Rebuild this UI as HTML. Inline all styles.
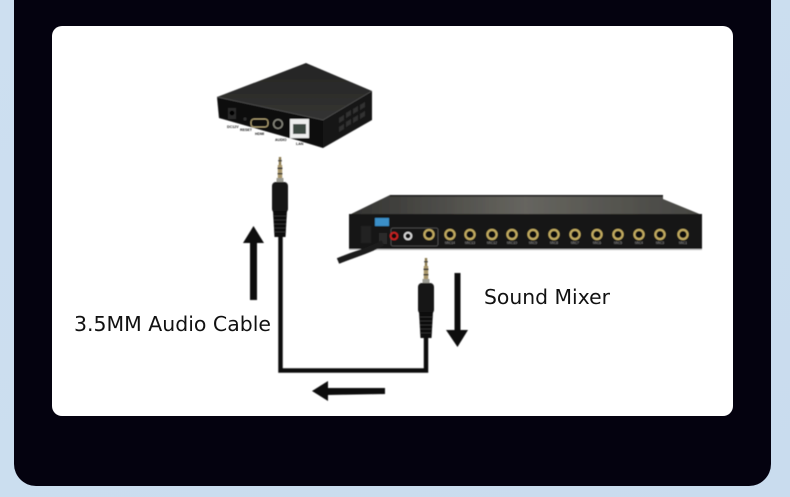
<!DOCTYPE html>
<html><head><meta charset="utf-8"><style>html,body{margin:0;padding:0;background:#cfe0f0}svg{display:block}</style></head><body>
<svg width="790" height="497" viewBox="0 0 790 497" xmlns="http://www.w3.org/2000/svg" font-family="'Liberation Sans',sans-serif">
<defs>
<linearGradient id="bg" x1="0" y1="0" x2="1" y2="1"><stop offset="0" stop-color="#cddff0"/><stop offset="1" stop-color="#c9dcee"/></linearGradient>
<linearGradient id="top" x1="0" y1="0" x2="0" y2="1"><stop offset="0" stop-color="#242424"/><stop offset="1" stop-color="#343432"/></linearGradient>
<linearGradient id="mtop" x1="0" y1="0" x2="1" y2="0"><stop offset="0" stop-color="#333331"/><stop offset=".5" stop-color="#66655f"/><stop offset="1" stop-color="#454541"/></linearGradient>
<filter id="b"><feGaussianBlur stdDeviation="0.4"/></filter>
<g id="jack"><circle r="4.6" fill="none" stroke="#c4ad62" stroke-width="2"/><circle r="2.6" fill="#111"/></g>
<g id="plug">
<rect x="-1.2" y="0" width="2.4" height="8" fill="#8a7a50"/><rect x="-1.8" y="3" width="3.6" height="1.4" fill="#444"/>
<rect x="-2.2" y="8" width="4.4" height="17" fill="#a8966a"/><rect x="-2.4" y="10.5" width="4.8" height="1.6" fill="#333"/><rect x="-2.4" y="16" width="4.8" height="1.4" fill="#333"/>
<rect x="-3.5" y="21" width="7" height="4" fill="#9b9b93"/>
<rect x="-8" y="25" width="16" height="31" rx="4" fill="#171717"/>
<path d="M-7 54H7L5.500 80H-5.500Z" fill="#111"/>
<g stroke="#333" stroke-width=".7"><path d="M-6 59H6M-6 63H6M-6 67H6M-6 71H6M-6 75H6"/></g>
</g>
</defs>
<rect width="790" height="497" fill="url(#bg)"/>
<path d="M14 0H771V464a22 22 0 0 1-22 22H36a22 22 0 0 1-22-22Z" fill="#04020f"/>
<rect x="52" y="26" width="681" height="390" rx="10" fill="#fff"/>

<g filter="url(#b)">
<!-- small box -->
<path d="M217 97L306 63L372 91L323 120Z" fill="url(#top)"/>
<path d="M323 120L372 91L372 120L323 148Z" fill="#161616"/>
<path d="M217 97L323 120L323 148L300 141L219 118Z" fill="#0b0b0b"/>
<path d="M217 97L323 120L372 91" fill="none" stroke="#555" stroke-width=".7"/>
<path d="M339 118l5-3v5l-5 3ZM346 113l5-3v5l-5 3ZM353 109l5-3v5l-5 3ZM360 105l5-3v5l-5 3ZM339 127l5-3v5l-5 3ZM346 122l5-3v5l-5 3ZM353 118l5-3v5l-5 3ZM360 114l5-3v5l-5 3Z" fill="#333"/>
<rect x="228" y="108" width="8" height="11" fill="#2a2a2a"/><circle cx="232" cy="113" r="2.4" fill="#000"/>
<circle cx="245" cy="119" r="1.6" fill="#333"/>
<rect x="251" y="119" width="17" height="8" rx="3" fill="#111" stroke="#b8a878" stroke-width="1"/>
<circle cx="278" cy="124" r="4.4" fill="#111" stroke="#8a8a80" stroke-width="1.400"/>
<rect x="290" y="119" width="19" height="19" fill="#eee"/>
<rect x="293" y="124" width="13" height="10" fill="#3d4a42"/>
<g fill="#222" font-size="3.600" font-weight="bold">
<text x="227" y="128">DC12V</text><text x="240" y="131">RESET</text><text x="255" y="135">HDMI</text><text x="275" y="141">AUDIO</text><text x="296" y="145">LAN</text>
</g>

<!-- mixer -->
<path d="M390 195H663V199L702 215H349Z" fill="url(#mtop)"/>
<rect x="390" y="195" width="273" height="1.600" fill="#1a1a1a"/>
<rect x="349" y="214" width="353" height="35" fill="#131313"/>
<rect x="349" y="249" width="353" height="1.200" fill="#ccc"/>
<rect x="361" y="226" width="10" height="17" fill="#222"/>
<rect x="375" y="218" width="14" height="8" fill="#3a8fc8"/>
<rect x="379" y="233" width="8" height="11" fill="#2a2a2a"/>
<rect x="391" y="228" width="47" height="18" rx="2" fill="none" stroke="#555" stroke-width=".8"/>
<circle cx="394" cy="236" r="3.400" fill="#111" stroke="#c22" stroke-width="1.800"/>
<circle cx="408" cy="236" r="3.400" fill="#111" stroke="#ddd" stroke-width="1.800"/>
<use href="#jack" x="429" y="234.500"/>
<use href="#jack" x="450" y="234.500"/><use href="#jack" x="470" y="234.500"/><use href="#jack" x="492" y="234.500"/><use href="#jack" x="512" y="234.500"/><use href="#jack" x="533" y="234.500"/><use href="#jack" x="554" y="234.500"/><use href="#jack" x="575" y="234.500"/><use href="#jack" x="597" y="234.500"/><use href="#jack" x="618" y="234.500"/><use href="#jack" x="639" y="234.500"/><use href="#jack" x="660" y="234.500"/><use href="#jack" x="683" y="234.500"/>
<g fill="#999" font-size="3.400" text-anchor="middle">
<text x="450" y="244">MIC14</text><text x="470" y="244">MIC13</text><text x="492" y="244">MIC12</text><text x="512" y="244">MIC10</text><text x="533" y="244">MIC9</text><text x="554" y="244">MIC8</text><text x="575" y="244">MIC7</text><text x="597" y="244">MIC6</text><text x="618" y="244">MIC5</text><text x="639" y="244">MIC4</text><text x="660" y="244">MIC3</text><text x="683" y="244">MIC1</text>
</g>
<path d="M383 243C365 252 352 255 338 261" fill="none" stroke="#1a1a1a" stroke-width="6"/>

<!-- cables -->
<path d="M280.500 230V370.500H426V335" fill="none" stroke="#111" stroke-width="4.500"/>
<use href="#plug" x="280" y="157"/>
<use href="#plug" x="426" y="258"/>

<!-- arrows -->
<path d="M250 300V243H243L253.500 226L264 243H257V300Z" fill="#111"/>
<path d="M454.500 273H460.500V330H468L457.500 347L446 330H454.500Z" fill="#111"/>
<path d="M385 388V394L328 395V401L312 391L328 381V388Z" fill="#111"/>
</g>

<g font-family="'DejaVu Sans',sans-serif" font-size="20.500" fill="#111">
<text x="74" y="331" textLength="197" lengthAdjust="spacingAndGlyphs">3.5MM Audio Cable</text>
<text x="484" y="304" textLength="126" lengthAdjust="spacingAndGlyphs">Sound Mixer</text>
</g>
</svg>
</body></html>
